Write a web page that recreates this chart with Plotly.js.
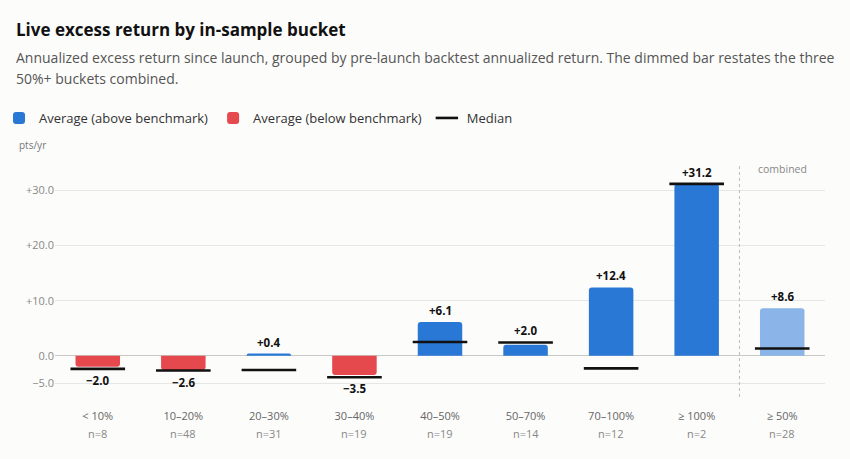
<!DOCTYPE html>
<html>
<head>
<meta charset="utf-8">
<script src="https://cdn.plot.ly/plotly-3.0.1.min.js"></script>
<style>
html,body{margin:0;padding:0;background:#fcfcfb;}
#chart{width:850px;height:459px;}
</style>
</head>
<body>
<div id="chart"></div>
<script>
// ---- data ----
const buckets = ["< 10%", "10–20%", "20–30%", "30–40%", "40–50%", "50–70%", "70–100%", "≥ 100%", "≥ 50%"];
const counts = [8, 48, 31, 19, 19, 14, 12, 2, 28];
const averages = [-2.0, -2.6, 0.4, -3.5, 6.1, 2.0, 12.4, 31.2, 8.6];
const medians = [-2.4, -2.7, -2.6, -3.9, 2.5, 2.4, -2.3, 31.2, 1.3];
const combinedIndex = 8;
const yTickVals = [-5, 0, 10, 20, 30];
const yTickText = ["−5.0", "0.0", "+10.0", "+20.0", "+30.0"];

const BLUE = "#2a78d6", RED = "#e5484d", DIM = "#8bb4e8";
const fmt = v => (v > 0 ? "+" : v < 0 ? "−" : "") + Math.abs(v).toFixed(1);
const idx = buckets.map((_, i) => i);

const posY = averages.map((v, i) => (i !== combinedIndex && v >= 0) ? v : null);
const negY = averages.map((v, i) => (i !== combinedIndex && v < 0) ? v : null);
const combY = averages.map((v, i) => i === combinedIndex ? v : null);

const PW = 770, PH = 234, ML = 55, MT = 163;
const px = X => (X - ML) / PW;          // page px -> paper x
const py = Y => 1 + (MT - Y) / PH;      // page px -> paper y

const barCommon = {type: "bar", x: idx, width: 0.52, hoverinfo: "skip"};
const traces = [
  Object.assign({}, barCommon, {y: posY, name: "Average (above benchmark)", marker: {color: BLUE, cornerradius: 3}}),
  Object.assign({}, barCommon, {y: negY, name: "Average (below benchmark)", marker: {color: RED, cornerradius: 3}}),
  Object.assign({}, barCommon, {y: combY, name: "combined", showlegend: false, marker: {color: DIM, cornerradius: 3}}),
  {type: "scatter", mode: "markers", x: idx, y: medians, name: "Median",
   marker: {symbol: "line-ew-open", size: 39, color: "#111", line: {width: 2.6, color: "#111"}},
   hoverinfo: "skip"}
];

const annotations = [
  {xref: "paper", yref: "paper", x: px(14), y: py(29), xanchor: "left", yanchor: "middle",
   text: "<b>Live excess return by in-sample bucket</b>", showarrow: false,
   font: {size: 17, color: "#111"}},
  {xref: "paper", yref: "paper", x: px(14), y: py(57), xanchor: "left", yanchor: "middle",
   text: "Annualized excess return since launch, grouped by pre-launch backtest annualized return. The dimmed bar restates the three",
   showarrow: false, font: {size: 14, color: "#555"}},
  {xref: "paper", yref: "paper", x: px(14), y: py(79), xanchor: "left", yanchor: "middle",
   text: "50%+ buckets combined.",
   showarrow: false, font: {size: 14, color: "#555"}},
  {xref: "paper", yref: "paper", x: px(17), y: py(145), xanchor: "left", yanchor: "middle",
   text: "pts/yr", showarrow: false, font: {size: 10, color: "#777"}},
  {xref: "x", yref: "paper", x: combinedIndex, y: py(169), xanchor: "center", yanchor: "middle",
   text: "combined", showarrow: false, font: {size: 10.5, color: "#888"}}
];
counts.forEach((n, i) => {
  annotations.push({xref: "x", yref: "paper", x: i, y: py(433), xanchor: "center", yanchor: "middle",
    text: "n=" + n, showarrow: false, font: {size: 11, color: "#888"}});
});
averages.forEach((v, i) => {
  const up = v >= 0;
  const anchor = up ? Math.max(v, medians[i]) : Math.min(v, medians[i]);
  annotations.push({xref: "x", yref: "y", x: i, y: anchor, text: "<b>" + fmt(v) + "</b>",
    showarrow: false, xanchor: "center", yanchor: up ? "bottom" : "top", yshift: up ? 2 : -2,
    font: {size: 11.5, color: "#111"}});
});

const layout = {
  width: 850, height: 459,
  margin: {l: 55, r: 25, t: 163, b: 62, autoexpand: false},
  paper_bgcolor: "#fcfcfb", plot_bgcolor: "#fcfcfb",
  font: {family: "Open Sans, sans-serif", size: 11, color: "#777"},
  barmode: "overlay",
  showlegend: true,
  legend: {orientation: "h", x: px(-1), xanchor: "left", y: py(118), yanchor: "middle",
    font: {size: 13, color: "#333"}, itemwidth: 30, tracegroupgap: 0, bgcolor: "rgba(0,0,0,0)"},
  xaxis: {range: [-0.5, 8.5], tickmode: "array", tickvals: idx, ticktext: buckets, automargin: false,
    showgrid: false, zeroline: false, showline: false, ticks: "", fixedrange: true, ticklabelstandoff: 11,
    tickfont: {size: 11, color: "#666"}},
  yaxis: {range: [-7.5, 35], tickmode: "array", tickvals: yTickVals, ticktext: yTickText, automargin: false,
    showgrid: true, gridcolor: "#e6e6e4", gridwidth: 1, zeroline: true, zerolinecolor: "#c8c8c4", zerolinewidth: 1.5,
    ticks: "", tickfont: {size: 11, color: "#888"}, fixedrange: true},
  shapes: [
    {type: "line", xref: "x", yref: "paper", x0: combinedIndex - 0.5, x1: combinedIndex - 0.5, y0: 0, y1: 1,
     line: {color: "#bbb", width: 1, dash: "3px,3px"}}
  ],
  annotations: annotations
};

Plotly.newPlot("chart", traces, layout, {displayModeBar: false, staticPlot: true});
</script>
</body>
</html>
